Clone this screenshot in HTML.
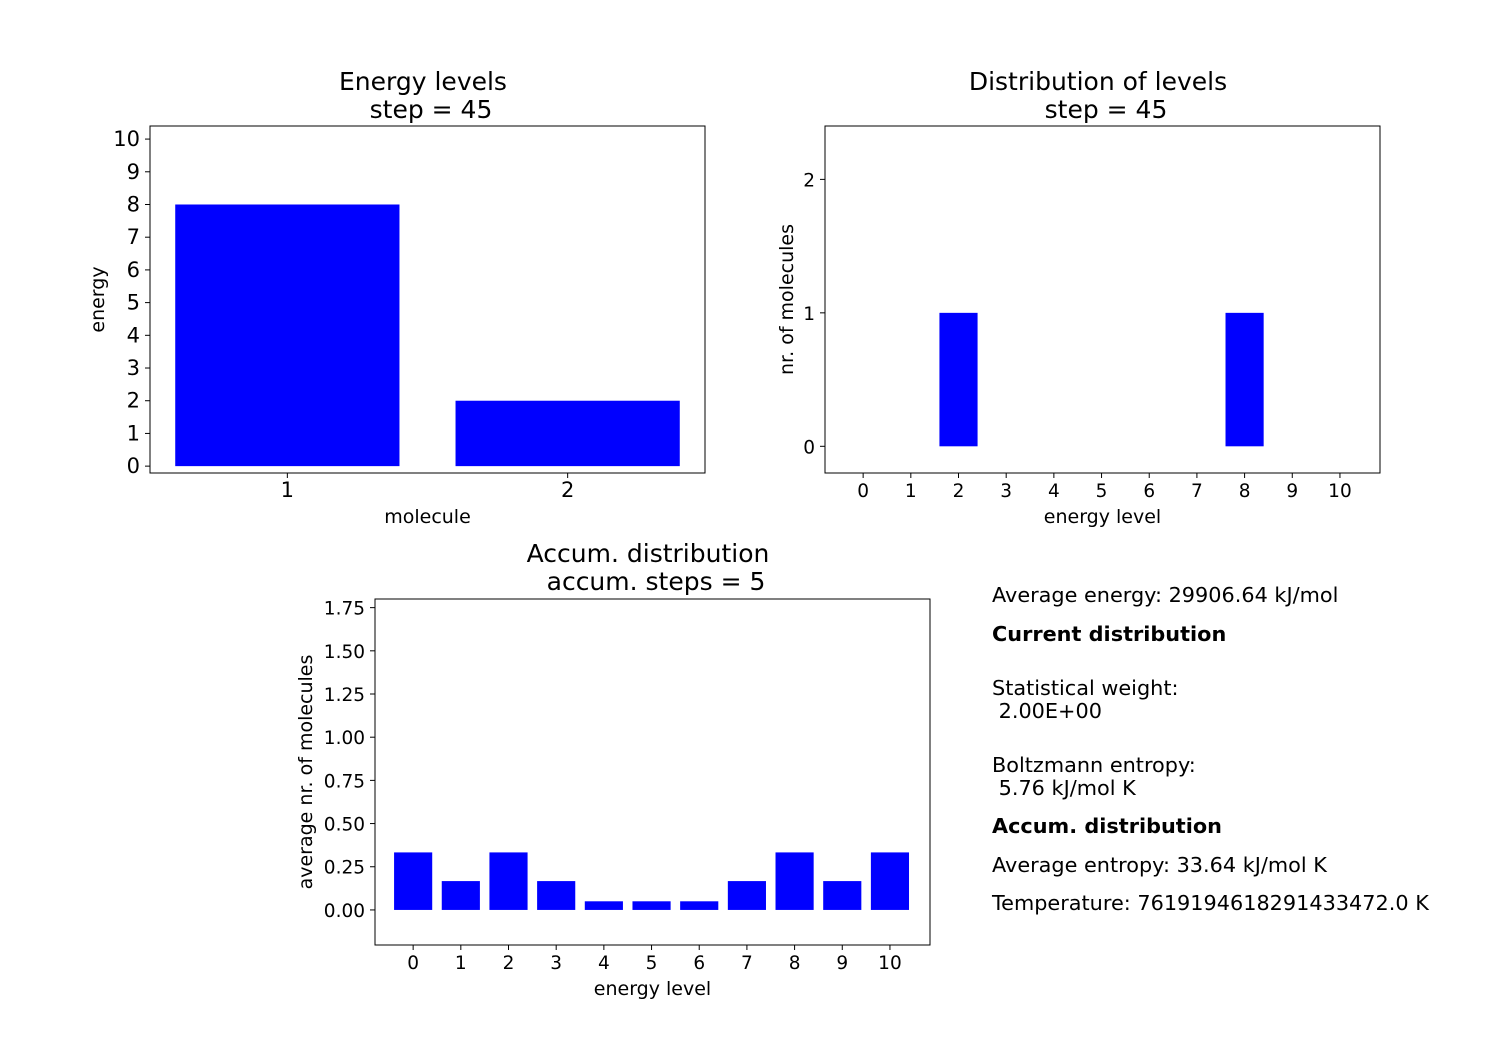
<!DOCTYPE html>
<html><head><meta charset="utf-8"><style>
body{margin:0;background:#fff}
svg{display:block;font-family:"DejaVu Sans","Liberation Sans",sans-serif}
</style></head><body>
<svg id="fig" width="1500" height="1050">
<rect width="1500" height="1050" fill="#fff"/>
<text x="423" y="90" font-size="25" text-anchor="middle">Energy levels</text>
<text x="431" y="118" font-size="25" text-anchor="middle">step = 45</text>
<text x="1098" y="90" font-size="25" text-anchor="middle">Distribution of levels</text>
<text x="1106" y="118" font-size="25" text-anchor="middle">step = 45</text>
<text x="648" y="562" font-size="25" text-anchor="middle">Accum. distribution</text>
<text x="656" y="590" font-size="25" text-anchor="middle">accum. steps = 5</text>
<g font-size="20.8">
<text x="992" y="602">Average energy: 29906.64 kJ/mol</text>
<text x="992" y="641" font-weight="bold">Current distribution</text>
<text x="992" y="695">Statistical weight:</text>
<text x="992" y="718" xml:space="preserve"> 2.00E+00</text>
<text x="992" y="772">Boltzmann entropy:</text>
<text x="992" y="795" xml:space="preserve"> 5.76 kJ/mol K</text>
<text x="992" y="833" font-weight="bold">Accum. distribution</text>
<text x="992" y="872">Average entropy: 33.64 kJ/mol K</text>
<text x="992" y="910">Temperature: 7619194618291433472.0 K</text>
</g>
</svg>
<script>
const energyMolecules=[1,2];
const energyValues=[8,2];
const energyYTicks=[0,1,2,3,4,5,6,7,8,9,10];
const levelCategories=[0,1,2,3,4,5,6,7,8,9,10];
const currentCounts=[0,0,1,0,0,0,0,0,1,0,0];
const currentYTicks=[0,1,2];
const accumAverages=[0.333,0.167,0.333,0.167,0.05,0.05,0.05,0.167,0.333,0.167,0.333];
const accumYTicks=[0,0.25,0.5,0.75,1.0,1.25,1.5,1.75];

const NS="http://www.w3.org/2000/svg";
const svg=document.getElementById('fig');
function el(tag,attrs,parent){const e=document.createElementNS(NS,tag);for(const k in attrs)e.setAttribute(k,attrs[k]);(parent||svg).appendChild(e);return e;}

function panel(o){
  const g=el('g',{});
  
  
  const sx=v=>o.x0+(v-o.xmin)/(o.xmax-o.xmin)*(o.x1-o.x0);
  const sy=v=>o.y1-(v-o.ymin)/(o.ymax-o.ymin)*(o.y1-o.y0);
  o.cats.forEach((c,i)=>{
    const v=o.vals[i]; if(!v) return;
    const r=el('rect',{x:sx(c-0.4),y:sy(v),width:sx(c+0.4)-sx(c-0.4),height:sy(0)-sy(v),fill:'#0000ff'},g);
    
    
  });
  const f=el('rect',{x:o.x0,y:o.y0,width:o.x1-o.x0,height:o.y1-o.y0,fill:'none',stroke:'#000','stroke-width':1},g);
  
  
  o.xt.forEach(t=>{
    const x=sx(t);
    el('line',{x1:x,x2:x,y1:o.y1,y2:o.y1+5,stroke:'#000'},g);
    const tx=el('text',{x:x,y:o.y1+24,'font-size':o.xfs,'text-anchor':'middle'},g);
    tx.textContent=t;
    
    
  });
  o.yt.forEach(t=>{
    const y=sy(t);
    el('line',{x1:o.x0-5,x2:o.x0,y1:y,y2:y,stroke:'#000'},g);
    const tx=el('text',{x:o.x0-10,y:y+7,'font-size':o.yfs,'text-anchor':'end'},g);
    tx.textContent=o.fmt?o.fmt(t):t;
    
    
  });
  const xl=el('text',{x:(o.x0+o.x1)/2,y:o.y1+50,'font-size':19,'text-anchor':'middle'},g);
  xl.textContent=o.xlabel;
  
  
  const yx=o.ylx, yy=(o.y0+o.y1)/2;
  const yl=el('text',{x:yx,y:yy,'font-size':19,'text-anchor':'middle',transform:`rotate(-90 ${yx} ${yy})`},g);
  yl.textContent=o.ylabel;
  
  
}
panel({name:'energy-levels-chart',x0:150,x1:705,y0:126,y1:473,xmin:0.51,xmax:2.49,ymin:-0.21,ymax:10.4,
  cats:energyMolecules,vals:energyValues,xt:energyMolecules,yt:energyYTicks,xfs:21,yfs:21,xlabel:'molecule',ylabel:'energy',ylx:104});
panel({name:'distribution-chart',x0:825,x1:1380,y0:126,y1:473,xmin:-0.8,xmax:10.84,ymin:-0.2,ymax:2.4,
  cats:levelCategories,vals:currentCounts,xt:levelCategories,yt:currentYTicks,xfs:18.5,yfs:18.5,xlabel:'energy level',ylabel:'nr. of molecules',ylx:793});
panel({name:'accum-distribution-chart',x0:375,x1:930,y0:599,y1:945,xmin:-0.8,xmax:10.84,ymin:-0.203,ymax:1.8,
  cats:levelCategories,vals:accumAverages,xt:levelCategories,yt:accumYTicks,xfs:18.5,yfs:18.5,xlabel:'energy level',ylabel:'average nr. of molecules',ylx:312,fmt:t=>t.toFixed(2)});
</script>
</body></html>
